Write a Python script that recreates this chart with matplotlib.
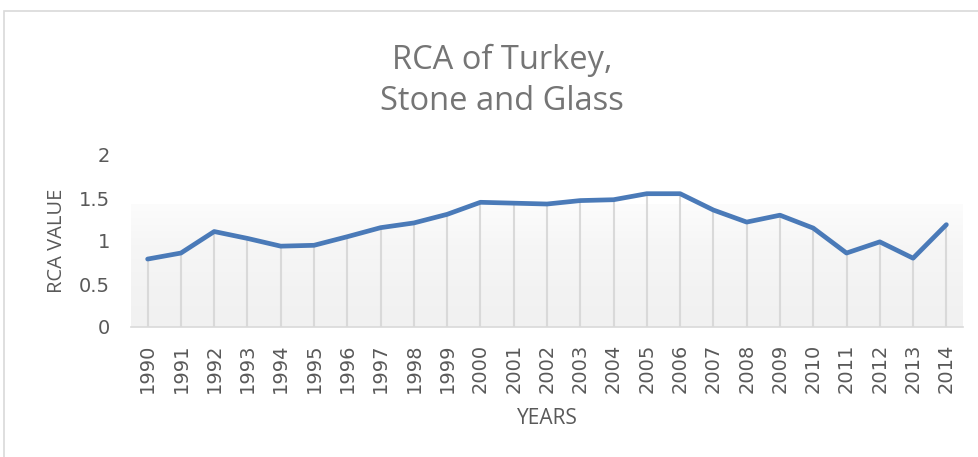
import matplotlib
matplotlib.use("Agg")
import matplotlib.pyplot as plt
import numpy as np
from matplotlib.patches import Rectangle
from matplotlib.colors import LinearSegmentedColormap

years = [str(y) for y in range(1990, 2015)]
rca = [0.79, 0.86, 1.11, 1.03, 0.94, 0.95, 1.05, 1.155, 1.21, 1.31, 1.45, 1.44,
       1.43, 1.47, 1.48, 1.55, 1.55, 1.36, 1.22, 1.30, 1.15, 0.86, 0.99, 0.80, 1.19]
yticks = [0, 0.5, 1, 1.5, 2]
ytick_labels = ["0", "0.5", "1", "1.5", "2"]

W, H = 979, 457
fig = plt.figure(figsize=(W / 100, H / 100), dpi=100)
fig.patch.set_facecolor("white")

# outer chart border
fig.patches.append(Rectangle((4 / W, -0.1), 1.2, 0.1 + 1 - 11 / H, transform=fig.transFigure,
                             fill=False, edgecolor="#d9d9d9", linewidth=1.2))

left, right = 131 / W, 963 / W
bottom, top = 1 - 327 / H, 1 - 155 / H
ax = fig.add_axes([left, bottom, right - left, top - bottom])
x = np.arange(len(years))
ax.set_xlim(-0.5, len(years) - 0.5)
ax.set_ylim(0, 2)

# soft gradient background band
cmap = LinearSegmentedColormap.from_list("g", ["#f1f1f1", "#f3f3f3", "#f6f6f6", "#fcfcfc"])
grad = np.linspace(0, 1, 256).reshape(-1, 1)
ax.imshow(grad, extent=(-0.5, len(years) - 0.5, 0, 1.42), origin="lower", aspect="auto",
          cmap=cmap, zorder=0)

ax.vlines(x, 0, rca, colors="#d9d9d9", linewidth=1.5, zorder=1)
ax.plot(x, rca, color="#4a7ab8", linewidth=3.4, solid_capstyle="round",
        solid_joinstyle="round", zorder=3)

for s in ["top", "right", "left"]:
    ax.spines[s].set_visible(False)
ax.spines["bottom"].set_color("#d9d9d9")
ax.spines["bottom"].set_linewidth(1.2)

ax.set_xticks(x)
ax.set_xticklabels(years, rotation=90, fontsize=14, color="#595959", family="DejaVu Sans")
ax.set_yticks(yticks)
ax.set_yticklabels(ytick_labels, fontsize=14, color="#595959", family="DejaVu Sans")
ax.tick_params(axis="both", length=0)
ax.tick_params(axis="x", pad=12)
ax.tick_params(axis="y", pad=15)

ax.set_ylabel("RCA VALUE", fontsize=14.5, color="#595959", family="Open Sans", va="center")
ax.yaxis.set_label_coords((57 - 131) / (963 - 131), 0.5)
ax.set_xlabel("YEARS", fontsize=15, color="#595959", family="Open Sans", va="center")
ax.xaxis.set_label_coords((547 - 131) / (963 - 131), -(418 - 327) / (327 - 155))

fig.text(502 / W, 1 - 60 / H, "RCA of Turkey,", ha="center", va="center",
         fontsize=23.5, color="#757575", family="Open Sans")
fig.text(502 / W, 1 - 101 / H, "Stone and Glass", ha="center", va="center",
         fontsize=23.5, color="#757575", family="Open Sans")

fig.savefig("out.png", dpi=100)
